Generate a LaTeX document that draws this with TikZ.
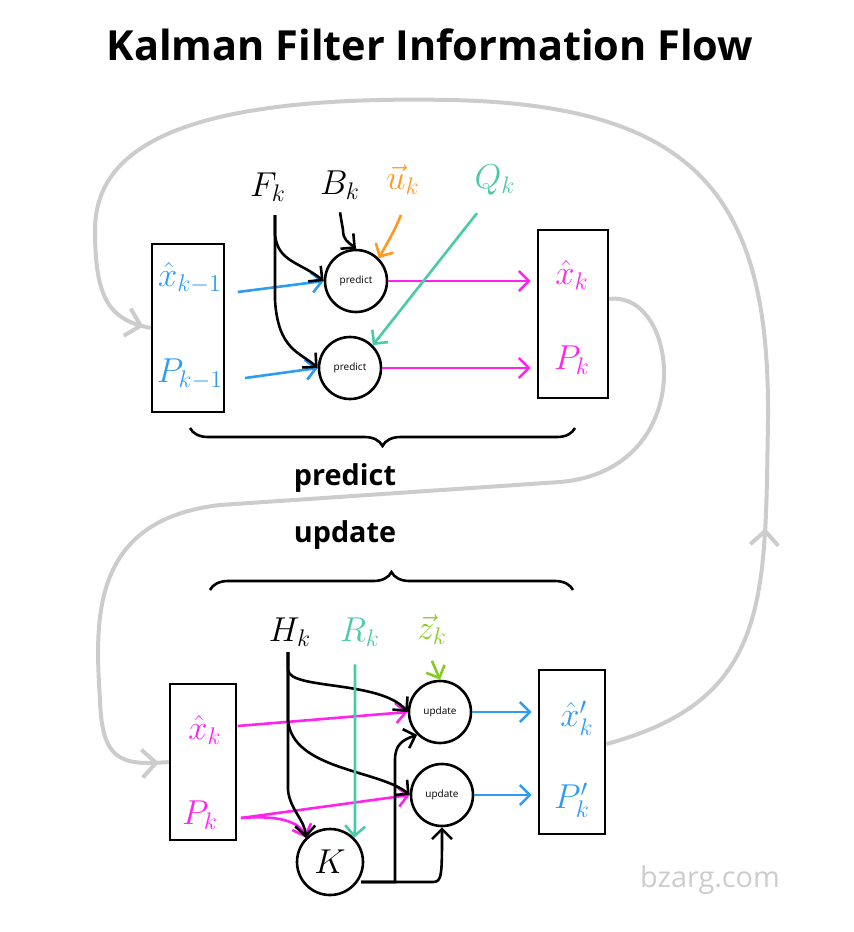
\documentclass[tikz,border=0pt]{standalone}
\usepackage{fontspec}
\setmainfont{Open Sans}
\usetikzlibrary{arrows.meta, decorations.pathreplacing, decorations.markings}
\definecolor{cblue}{HTML}{2E9BF5}
\definecolor{cmag}{HTML}{FF22EE}
\definecolor{corange}{HTML}{FF9920}
\definecolor{cteal}{HTML}{4CC9A8}
\definecolor{cgreen}{HTML}{88CC22}
\definecolor{cgray}{HTML}{CCCCCC}
\begin{document}
\begin{tikzpicture}[x=0.5pt, y=-0.5pt, line width=1.3pt,
  box/.style={draw, minimum width=36pt, minimum height=82pt, inner sep=0pt},
  op/.style={draw, circle, minimum size=31pt, inner sep=0pt, font=\tiny},
  lbl/.style={font=\LARGE},
  arr/.style={-{Straight Barb[length=5pt]}},
  loop/.style={cgray, line width=2pt},
  upmark/.style={postaction={decorate, decoration={markings,
    mark=at position #1 with {\arrow{Straight Barb[length=7pt]}}}}}]
\useasboundingbox (0,0) rectangle (854,932);
\node[font=\huge\bfseries] (title) at (430,45) {Kalman Filter Information Flow};

% ---- predict stage
\node[box, minimum height=84pt] (inL) at (188,328) {};
\node[box, minimum width=35pt, minimum height=84pt] (outL) at (573,314) {};
\node[lbl, cblue] (xk1) at (190,278) {$\hat{x}_{k-1}$};
\node[lbl, cblue] (Pk1) at (190,374) {$P_{k-1}$};
\node[lbl, cmag] (xkA) at (572,275) {$\hat{x}_k$};
\node[lbl, cmag] (PkA) at (572,360) {$P_k$};
\node[op] (p1) at (356,281) {predict};
\node[op] (p2) at (350,368) {predict};
\node[lbl] (F) at (268,187) {$F_k$};
\node[lbl] (B) at (340,185) {$B_k$};
\node[lbl, corange] (u) at (403,180) {$\vec{u}_k$};
\node[lbl, cteal] (Q) at (495,180) {$Q_k$};

\draw[arr, cblue] (xk1.east) ++(8,14) -- (p1.west);
\draw[arr, cblue] (Pk1.east) ++(14,4) -- (p2.west);
\draw[arr, cmag] (p1.east) -- ([xshift=-3pt]outL.west |- p1.east);
\draw[arr, cmag] (p2.east) -- ([xshift=-3pt]outL.west |- p2.east);
\coordinate (Fs) at (275,215);
\draw[arr] (Fs) -- (275,235) .. controls (278,262) and (300,262) .. (p1.west);
\draw[arr] (Fs) -- (275,300) .. controls (278,350) and (300,352) .. (p2.west);
\draw[arr] (B.south) ++(0,5) -- (343,230) .. controls (343,240) and (348,242) .. (p1.north);
\draw[arr, corange] (u.south) ++(-2,12) .. controls (395,230) and (390,238) .. (p1.north east);
\draw[arr, cteal] (Q.south) ++(-18,10) -- (p2.north east);
\draw[decorate, decoration={brace, amplitude=9pt}] (575,428) -- (190,428);
\node[font=\Large\bfseries] (plbl) at (345,478) {predict};

% ---- update stage
\node[font=\Large\bfseries] (ulbl) at (345,535) {update};
\draw[decorate, decoration={brace, amplitude=9pt}] (210,590) -- (573,590);
\node[box, minimum width=33pt, minimum height=78pt] (inB) at (203,762) {};
\node[box, minimum width=33pt, minimum height=82pt] (outB) at (572,752) {};
\node[lbl, cmag] (xkB) at (205,730) {$\hat{x}_k$};
\node[lbl, cmag] (PkB) at (200,815) {$P_k$};
\node[lbl, cblue] (xp) at (577,718) {$\hat{x}'_k$};
\node[lbl, cblue] (Pp) at (572,800) {$P'_k$};
\node[op] (u1) at (440,712) {update};
\node[op] (u2) at (442,795) {update};
\node[draw, circle, minimum size=33pt, font=\LARGE] (K) at (330,862) {$K$};
\node[lbl] (H) at (290,632) {$H_k$};
\node[lbl, cteal] (R) at (360,632) {$R_k$};
\node[lbl, cgreen] (z) at (432,630) {$\vec{z}_k$};

\draw[arr, cmag] (xkB.east) ++(8,-4) -- (u1.west);
\draw[arr, cmag] (PkB.east) ++(15,3) -- (u2.west);
\draw[arr, cmag] (PkB.east) ++(15,3) .. controls (280,815) and (300,822) .. (K.north west);
\coordinate (Hs) at (288,652);
\draw[arr] (Hs) -- (288,670) .. controls (290,690) and (380,680) .. (u1.west);
\draw[arr] (Hs) -- (288,720) .. controls (292,770) and (380,770) .. (u2.west);
\draw[arr] (Hs) -- (288,790) .. controls (290,810) and (305,820) .. (K.north west);
\draw[arr, cteal] (R.south) ++(-5,10) -- (355,828) -- (K.north east);
\draw[arr, cgreen] (z.south) ++(0,8) -- (u1.north);
\coordinate (Ko) at (361,882);
\draw[arr] (Ko) -- (395,882) -- (395,760) .. controls (395,745) and (402,740) .. (u1.south west);
\draw[arr] (Ko) -- (433,882) .. controls (442,882) and (442,875) .. (u2.south);
\draw[arr, cblue] (u1.east) -- ([xshift=-3pt]outB.west |- u1.east);
\draw[arr, cblue] (u2.east) -- ([xshift=-3pt]outB.west |- u2.east);

% ---- gray loops
\draw[loop, upmark=0.99] (outL.east) ++(0,-15) .. controls (680,290) and (700,470) .. (560,482)
  -- (220,505) .. controls (90,520) and (95,620) .. (100,700)
  .. controls (102,760) and (120,766) .. (inB.west);
\draw[loop, upmark=0.2, upmark=0.995] (outB.east) ++(0,-8)
  .. controls (770,700) and (765,600) .. (768,420)
  .. controls (770,200) and (700,105) .. (450,100)
  .. controls (200,95) and (95,140) .. (95,230)
  .. controls (95,300) and (110,320) .. (inL.west);
\node[cgray, font=\Large] (web) at (710,880) {bzarg.com};
\end{tikzpicture}
\end{document}
